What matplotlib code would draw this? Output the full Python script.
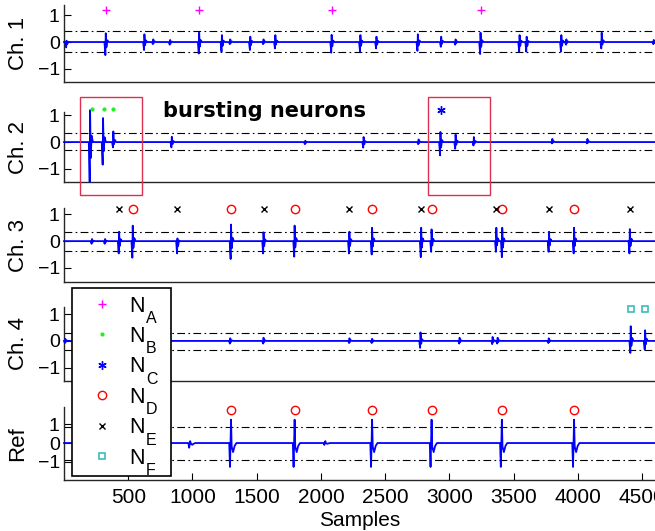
import numpy as np
import matplotlib
matplotlib.use("Agg")
import matplotlib.pyplot as plt
from matplotlib.lines import Line2D
from matplotlib.patches import Rectangle
from matplotlib.text import Annotation

plt.rcParams["font.family"] = ["Liberation Sans", "DejaVu Sans"]

# ---------------------------------------------------------------- data
n_samples = 4600

# spike times of the sorted neurons (samples)
times_A = [325, 1052, 2083, 3242]
times_B = [215, 312, 384]
times_C = [2936]
times_D = [535, 1300, 1795, 2398, 2861, 3408, 3970]
times_E = [429, 883, 1553, 2221, 2780, 3365, 3775, 4404]
times_F = [4411, 4523]

# per-channel spike events: time, positive peak, negative peak
ch1_t = [20, 325, 626, 695, 826, 1052, 1229, 1294, 1450, 1553, 1645, 2083, 2307,
         2432, 2754, 2936, 3048, 3242, 3546, 3601, 3871, 3910, 4185, 4590]
ch1_up = [0.05, 0.33, 0.29, 0.10, 0.08, 0.35, 0.26, 0.10, 0.20, 0.10, 0.26, 0.27, 0.26,
          0.20, 0.29, 0.20, 0.10, 0.35, 0.26, 0.20, 0.26, 0.10, 0.35, 0.08]
ch1_dn = [-0.20, -0.49, -0.30, -0.08, -0.10, -0.43, -0.36, -0.08, -0.30, -0.08, -0.24, -0.40, -0.36,
          -0.24, -0.33, -0.18, -0.10, -0.45, -0.36, -0.36, -0.36, -0.10, -0.24, -0.08]

ch2_t = [203, 304, 384, 839, 1878, 2332, 2760, 2930, 3048, 3190, 3801, 4074]
ch2_up = [1.20, 0.90, 0.40, 0.20, 0.05, 0.19, 0.10, 0.38, 0.28, 0.19, 0.12, 0.12]
ch2_dn = [-1.50, -0.85, -0.20, -0.20, -0.08, -0.21, -0.08, -0.50, -0.25, -0.13, -0.05, -0.05]

ch3_t = [218, 320, 429, 535, 883, 1300, 1553, 1795, 2221, 2398, 2780, 2861,
         3365, 3411, 3775, 3970, 4404]
ch3_up = [0.08, 0.08, 0.35, 0.58, 0.10, 0.62, 0.33, 0.58, 0.35, 0.50, 0.50, 0.44,
          0.50, 0.50, 0.35, 0.50, 0.45]
ch3_dn = [-0.10, -0.10, -0.46, -0.62, -0.46, -0.67, -0.46, -0.58, -0.46, -0.50, -0.60, -0.40,
          -0.40, -0.60, -0.40, -0.46, -0.46]

ch4_t = [10, 1294, 1553, 2222, 2398, 2775, 3079, 3336, 3375, 3773, 4411, 4523]
ch4_up = [0.08, 0.10, 0.12, 0.10, 0.08, 0.32, 0.12, 0.15, 0.12, 0.10, 0.55, 0.40]
ch4_dn = [-0.08, -0.10, -0.10, -0.08, -0.08, -0.26, -0.10, -0.12, -0.10, -0.08, -0.45, -0.32]

ref_t = [535, 982, 1300, 1795, 2034, 2398, 2861, 3408, 3970]
ref_up = [1.23, 0.10, 1.23, 1.23, 0.10, 1.23, 1.23, 1.23, 1.23]
ref_dn = [-1.26, -0.25, -1.26, -1.26, -0.10, -1.26, -1.26, -1.26, -1.26]

thresholds = [(0.40, -0.37), (0.33, -0.31), (0.33, -0.36), (0.31, -0.33), (0.83, -0.91)]
row_labels = ["Ch. 1", "Ch. 2", "Ch. 3", "Ch. 4", "Ref"]
x_ticks = [500, 1000, 1500, 2000, 2500, 3000, 3500, 4000, 4500]
neuron_ids = ["A", "B", "C", "D", "E", "F"]


def build_trace(t, up, dn, ref=False):
    """Polyline vertices of a trace made of spike waveforms on a flat baseline."""
    xs, ys = [0.0], [0.0]
    for ti, u, d in sorted(zip(t, up, dn)):
        if ref:
            offs = [-14, -8, 0, 5, 16, 28, 42]
            vals = [0, d, u, -0.15 * u, 0.38 * d, 0.12 * d, 0]
        else:
            offs = [-10, -3, 0, 5, 12, 22]
            vals = [0, d, u, 0.4 * d, 0.2 * u, 0]
        for o, v in zip(offs, vals):
            xs.append(ti + o)
            ys.append(v)
    xs.append(n_samples)
    ys.append(0.0)
    return np.array(xs), np.array(ys)


# ---------------------------------------------------------------- layout
W, H = 655, 531
fig = plt.figure(figsize=(W / 100, H / 100), dpi=100)

# (top px, bottom px, ymin, ymax) for each row
rows = [(5, 82, -1.5, 1.39), (112, 182, -1.5, 1.13), (208, 282, -1.53, 1.24),
        (307, 381, -1.5, 1.27), (407, 480, -1.95, 1.9)]
x0_px = 64

traces = [(ch1_t, ch1_up, ch1_dn), (ch2_t, ch2_up, ch2_dn), (ch3_t, ch3_up, ch3_dn),
          (ch4_t, ch4_up, ch4_dn), (ref_t, ref_up, ref_dn)]

axes = []
for i, (top, bot, y0, y1) in enumerate(rows):
    ax = fig.add_axes([x0_px / W, 1 - bot / H, (W - x0_px) / W, (bot - top) / H])
    ax.set_xlim(0, n_samples)
    ax.set_ylim(y0, y1)
    for s in ("top", "right"):
        ax.spines[s].set_visible(False)
    for s in ("left", "bottom"):
        ax.spines[s].set_color("#262626")
        ax.spines[s].set_linewidth(1.0)
    ax.set_yticks([-1, 0, 1])
    ax.tick_params(axis="y", direction="in", length=5, labelsize=14, pad=3)
    if i < 4:
        ax.set_xticks([])
    else:
        ax.set_xticks(x_ticks)
        ax.tick_params(axis="x", direction="in", length=5, labelsize=15, pad=6)
    ax.set_ylabel(row_labels[i], fontsize=16)
    ax.yaxis.set_label_coords(-0.060, 0.5)

    t, up, dn = traces[i]
    xs, ys = build_trace(t, up, dn, ref=(i == 4))
    ax.plot(xs, ys, color="#0000ff", lw=1.3, clip_on=False, zorder=3)
    hi, lo = thresholds[i]
    for yv in (hi, lo):
        ax.axhline(yv, color="black", lw=0.8, ls=(0, (7, 3, 1.5, 3)), zorder=2)
    axes.append(ax)

ax1, ax2, ax3, ax4, axr = axes

# neuron markers above their spikes
mk_A = dict(marker="+", color="#ff00ff", ms=6, mew=1.0, ls="none")
mk_B = dict(marker=".", color="#22ee22", ms=4, ls="none")
mk_C = dict(marker=(6, 2, 0), color="#0000ff", ms=6, mew=1.0, ls="none")
mk_D = dict(marker="o", mfc="none", mec="#ff0000", ms=6, mew=1.0, ls="none")
mk_E = dict(marker="x", color="black", ms=4, mew=1.0, ls="none")
mk_F = dict(marker="s", mfc="none", mec="#3cbcbc", ms=5, mew=1.2, ls="none")

ax1.plot(times_A, [1.2] * len(times_A), clip_on=False, zorder=4, **mk_A)
ax2.plot(times_B, [1.24] * len(times_B), clip_on=False, zorder=4, **mk_B)
ax2.plot(times_C, [1.2] * len(times_C), clip_on=False, zorder=4, **mk_C)
ax3.plot(times_D, [1.2] * len(times_D), clip_on=False, zorder=4, **mk_D)
ax3.plot(times_E, [1.2] * len(times_E), clip_on=False, zorder=4, **mk_E)
ax4.plot(times_F, [1.2] * len(times_F), clip_on=False, zorder=4, **mk_F)
axr.plot(times_D, [1.74] * len(times_D), clip_on=False, zorder=4, **mk_D)

axr.set_xlabel("Samples", fontsize=15, labelpad=3)

# burst highlight boxes on channel 2
for xa, xb in [(125, 605), (2836, 3312)]:
    ax2.add_patch(Rectangle((xa, -2.0), xb - xa, 3.71, fill=False, ec="#dc3050",
                            lw=1.0, clip_on=False, zorder=5))
fig.text(163 / W, 1 - 117 / H, "bursting neurons", fontsize=15, fontweight="bold",
         family="DejaVu Sans", va="baseline", ha="left")

# legend: "N" with a dropped subscript letter per neuron
handles = [Line2D([], [], **mk) for mk in (mk_A, mk_B, mk_C, mk_D, mk_E, mk_F)]
leg = fig.legend(handles, ["N   "] * len(neuron_ids), loc="upper left",
                 bbox_to_anchor=(72 / W, 1 - 288 / H), fontsize=15.5, numpoints=1,
                 frameon=True, fancybox=False, framealpha=1, edgecolor="black",
                 borderpad=0.35, labelspacing=0.44, handlelength=2.05, handletextpad=0.3,
                 borderaxespad=0)
leg.get_frame().set_linewidth(1.2)
for txt, nid in zip(leg.get_texts(), neuron_ids):
    sub = Annotation(nid, xy=(0, 0), xycoords=txt, xytext=(11.5, -6.8),
                     textcoords="offset points", fontsize=11.5, va="bottom", ha="left",
                     zorder=6)
    fig.add_artist(sub)

fig.savefig("out.png", dpi=100)
